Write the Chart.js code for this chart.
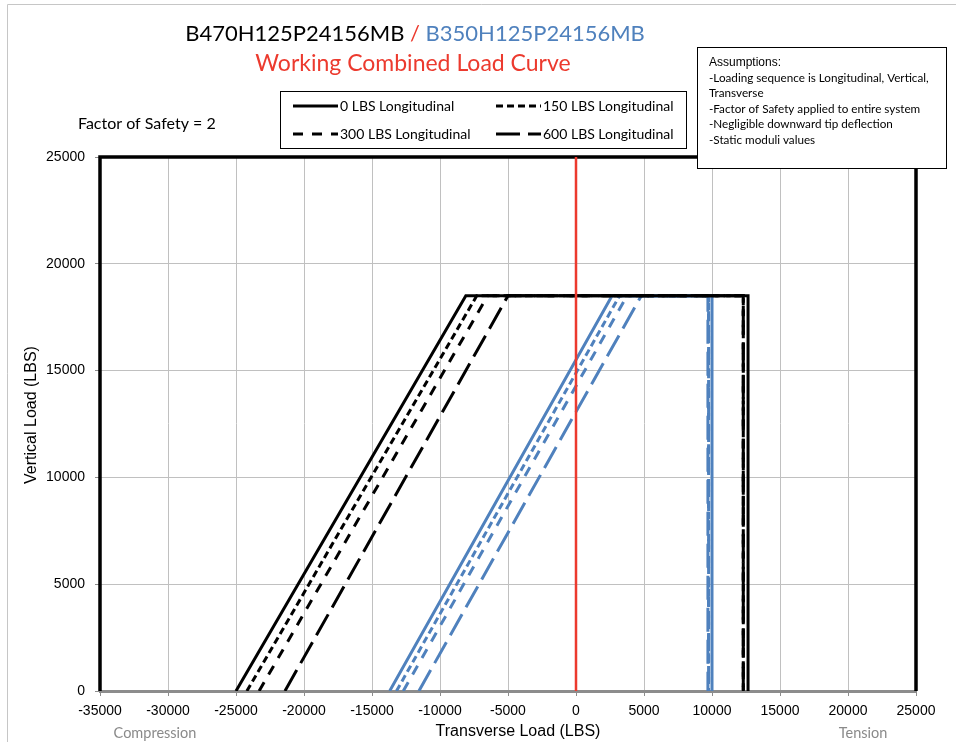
<!DOCTYPE html>
<html>
<head>
<meta charset="utf-8">
<title>Working Combined Load Curve</title>
<script src="https://cdn.jsdelivr.net/npm/chart.js@4.4.0/dist/chart.umd.min.js"></script>
<style>
  body { margin: 0; background: #fff; }
  canvas { display: block; }
</style>
</head>
<body>
<canvas id="loadChart" width="956" height="742"></canvas>
<script>
// series names and read-off values (LBS)
const seriesLabels = ["0 LBS Longitudinal", "150 LBS Longitudinal", "300 LBS Longitudinal", "600 LBS Longitudinal"];
const curveY = [0, 18500, 18500, 0];
const b470X0 = [-25000, -8100, 12650, 12650];
const b470X150 = [-24200, -7300, 12300, 12300];
const b470X300 = [-23300, -6500, 12300, 12300];
const b470X600 = [-21400, -5000, 12300, 12300];
const b350X0 = [-13700, 2650, 10000, 10000];
const b350X150 = [-13200, 3200, 9750, 9750];
const b350X300 = [-12700, 3750, 9750, 9750];
const b350X600 = [-11550, 4800, 9700, 9700];
const zeroX = [0, 0];
const zeroY = [0, 25000];
const limitX = [-35000, -35000, 25000, 25000];
const limitY = [0, 25000, 25000, 0];
const xTicks = [-35000, 25000, 5000]; // min, max, step
const yTicks = [0, 25000, 5000];

const titleMain = "B470H125P24156MB";
const titleAlt = "B350H125P24156MB";
const subTitle = "Working Combined Load Curve";
const assumptions = [
  "-Loading sequence is Longitudinal, Vertical,",
  "Transverse",
  "-Factor of Safety applied to entire system",
  "-Negligible downward tip deflection",
  "-Static moduli values"
];

const BLUE = '#4f81bd', RED = '#ec3a2e';
const dashes = [[], [7, 4], [10, 9], [24, 8]];
const FONT = 'Lato, "Open Sans", sans-serif';
const ARIAL = '"Liberation Sans", Arial, sans-serif';

function curve(xs, ys) {
  return xs.map((x, i) => ({ x: x, y: ys[i] }));
}

// first dataset is drawn on top
const datasets = [];
datasets.push({ label: 'Zero', data: curve(zeroX, zeroY), borderColor: RED, borderWidth: 2.5 });
[b470X0, b470X150, b470X300, b470X600].forEach((xs, i) => {
  datasets.push({ label: 'B470 ' + seriesLabels[i], data: curve(xs, curveY), borderColor: '#000', borderDash: dashes[i], borderWidth: 3 });
});
[b350X0, b350X150, b350X300, b350X600].forEach((xs, i) => {
  datasets.push({ label: 'B350 ' + seriesLabels[i], data: curve(xs, curveY), borderColor: BLUE, borderDash: dashes[i], borderWidth: 3 });
});
datasets.push({ label: 'Limit', data: curve(limitX, limitY), borderColor: '#000', borderWidth: 3.5, clip: false });
datasets.forEach(d => { d.showLine = true; d.pointRadius = 0; d.fill = false; });

const overlay = {
  id: 'overlay',
  afterDraw(chart) {
    const c = chart.ctx;
    c.save();
    // outer frame
    c.strokeStyle = '#c6c6c6'; c.lineWidth = 1;
    c.beginPath(); c.moveTo(7.5, 742); c.lineTo(7.5, 4.5); c.lineTo(956, 4.5); c.stroke();

    // title
    c.textBaseline = 'middle';
    c.textAlign = 'left';
    c.font = '22px ' + FONT;
    const parts = [[titleMain, '#000'], [' / ', RED], [titleAlt, BLUE]];
    const total = parts.reduce((s, p) => s + c.measureText(p[0]).width, 0);
    let x = 415 - total / 2;
    parts.forEach(p => {
      c.fillStyle = p[1];
      c.fillText(p[0], x, 34);
      x += c.measureText(p[0]).width;
    });
    c.font = '23px ' + FONT;
    c.fillStyle = RED; c.textAlign = 'center';
    c.fillText(subTitle, 413, 64);

    c.fillStyle = '#000'; c.textAlign = 'left'; c.font = '16px ' + FONT;
    c.fillText('Factor of Safety = 2', 78, 124);

    // legend
    c.fillStyle = '#fff'; c.fillRect(280, 91, 407, 57);
    c.strokeStyle = '#000'; c.lineWidth = 1; c.strokeRect(280.5, 91.5, 406, 57);
    const slots = [[293, 106], [496, 106], [293, 134], [496, 134]];
    c.font = '14px ' + FONT;
    seriesLabels.forEach((lab, i) => {
      const sx = slots[i][0], sy = slots[i][1];
      c.setLineDash(dashes[i]); c.lineWidth = 3;
      c.beginPath(); c.moveTo(sx, sy); c.lineTo(sx + 45, sy); c.stroke();
      c.setLineDash([]);
      c.fillStyle = '#000'; c.fillText(lab, sx + 47, sy);
    });

    // assumptions box
    c.fillStyle = '#fff'; c.fillRect(697, 47, 249, 121);
    c.lineWidth = 1; c.strokeRect(697.5, 47.5, 249, 121);
    c.fillStyle = '#000';
    c.font = '12px ' + ARIAL;
    c.fillText('Assumptions:', 709, 63);
    c.font = '11.7px ' + FONT;
    assumptions.forEach((t, i) => c.fillText(t, 709, 78 + i * 15.5));

    // axis titles
    c.font = '16px ' + ARIAL; c.textAlign = 'center';
    c.fillText('Transverse Load (LBS)', 518, 732);
    c.save();
    c.translate(32, 415); c.rotate(-Math.PI / 2);
    c.fillText('Vertical Load (LBS)', 0, 0);
    c.restore();

    // side captions
    c.fillStyle = '#8a8a8a'; c.textAlign = 'center'; c.font = '14.5px ' + FONT;
    c.fillText('Compression', 155, 733);
    c.fillText('Tension', 863, 733);
    c.restore();
  }
};

new Chart(document.getElementById('loadChart'), {
  type: 'scatter',
  data: { datasets: datasets },
  options: {
    responsive: false,
    animation: false,
    layout: { padding: { top: 157, right: 40, bottom: 0, left: 0 } },
    plugins: { legend: { display: false }, tooltip: { enabled: false } },
    elements: { line: { tension: 0 } },
    scales: {
      x: {
        type: 'linear',
        min: xTicks[0], max: xTicks[1],
        ticks: { stepSize: xTicks[2], color: '#000', padding: 7, font: { family: ARIAL, size: 14 }, callback: v => String(v) },
        grid: { color: '#c0c0c0', tickLength: 5, tickColor: '#8c8c8c' },
        border: { color: '#8c8c8c', width: 3 },
        afterFit(s) { s.height = 51; }
      },
      y: {
        min: yTicks[0], max: yTicks[1],
        ticks: { stepSize: yTicks[2], color: '#000', padding: 10, font: { family: ARIAL, size: 14 }, callback: v => String(v) },
        grid: { color: '#c0c0c0', tickLength: 5, tickColor: '#8c8c8c' },
        border: { display: false },
        afterFit(s) { s.width = 100; }
      }
    }
  },
  plugins: [overlay]
});
</script>
</body>
</html>
